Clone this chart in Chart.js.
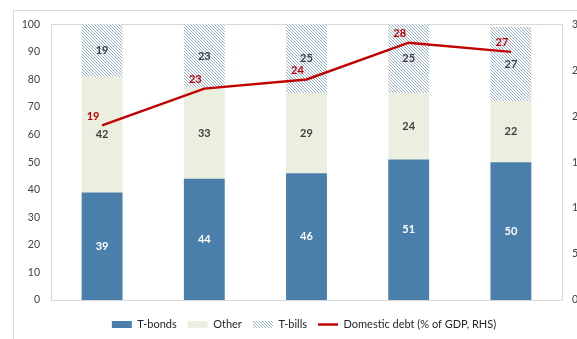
<!DOCTYPE html>
<html lang="en">
<head>
  <meta charset="UTF-8">
  <title>Domestic debt composition</title>
  <script src="https://cdn.jsdelivr.net/npm/chart.js"></script>
  <style>
    html, body { margin: 0; padding: 0; background: #fff; overflow: hidden; }
    .frame {
      position: absolute; left: 13px; top: 10px;
      width: 580px; height: 335px; overflow: hidden;
      border-left: 1px solid #d9d9d9; border-top: 1px solid #d9d9d9;
    }
    .frame canvas { position: absolute; left: 0; top: -4px; }
  </style>
</head>
<body>
  <div class="frame"><canvas id="debtChart" width="580" height="339"></canvas></div>

<script>
// years on the x axis
const years = ['2019', '2020', '2021', '2022', '2023'];
// composition of domestic debt, % of total
const tBonds = [39, 44, 46, 51, 50];
const other = [42, 33, 29, 24, 22];
const tBills = [19, 23, 25, 25, 27];
// domestic debt, % of GDP (right axis)
const domDebt = [19, 23, 24, 28, 27];

const FONT = 'Lato, "Open Sans", sans-serif';

// diagonal hatch used for T-bills, drawn pixel by pixel
function hatch() {
  const c = document.createElement('canvas');
  c.width = 3; c.height = 3;
  const g = c.getContext('2d');
  g.fillStyle = '#ffffff';
  g.fillRect(0, 0, 3, 3);
  g.fillStyle = '#94aed4';
  for (let i = 0; i < 3; i++) g.fillRect(i, i, 1, 1);
  return g.createPattern(c, 'repeat');
}

// thin frame around the plot area
const plotFrame = {
  id: 'plotFrame',
  beforeDatasetsDraw(chart) {
    const a = chart.chartArea, ctx = chart.ctx;
    ctx.save();
    ctx.strokeStyle = '#d9d9d9';
    ctx.lineWidth = 1;
    ctx.strokeRect(Math.round(a.left) + 0.5, Math.round(a.top) + 0.5,
      Math.round(a.right - a.left), Math.round(a.bottom - a.top));
    ctx.restore();
  }
};

// value labels on bar segments and line points
const valueLabels = {
  id: 'valueLabels',
  afterDatasetsDraw(chart) {
    const ctx = chart.ctx;
    ctx.save();
    ctx.textAlign = 'center';
    ctx.textBaseline = 'middle';
    ctx.font = 'bold 11px ' + FONT;
    chart.data.datasets.forEach((ds, i) => {
      const meta = chart.getDatasetMeta(i);
      meta.data.forEach((el, j) => {
        const v = ds.data[j];
        if (ds.type === 'line') {
          ctx.fillStyle = '#c00000';
          ctx.fillText(v, el.x - 9, el.y - 9);
        } else {
          ctx.fillStyle = i === 0 ? '#ffffff' : '#404040';
          ctx.fillText(v, el.x, (el.y + el.base) / 2);
        }
      });
    });
    ctx.restore();
  }
};

const tickFont = { family: FONT, size: 10.5 };

new Chart(document.getElementById('debtChart'), {
  data: {
    labels: years,
    datasets: [
      { type: 'bar', label: 'T-bonds', data: tBonds, backgroundColor: '#4a7eab',
        yAxisID: 'y', order: 1, barPercentage: 0.8, categoryPercentage: 0.5 },
      { type: 'bar', label: 'Other', data: other, backgroundColor: '#ebefdf',
        yAxisID: 'y', order: 1, barPercentage: 0.8, categoryPercentage: 0.5 },
      { type: 'bar', label: 'T-bills', data: tBills, backgroundColor: hatch(),
        yAxisID: 'y', order: 1, barPercentage: 0.8, categoryPercentage: 0.5 },
      { type: 'line', label: 'Domestic debt (% of GDP, RHS)', data: domDebt,
        borderColor: '#c00000', backgroundColor: '#c00000', borderWidth: 2.5,
        pointRadius: 0, tension: 0, yAxisID: 'y1', order: 0 }
    ]
  },
  options: {
    responsive: false,
    animation: false,
    layout: { padding: { left: 0, right: 0, top: 5, bottom: 6 } },
    scales: {
      x: {
        stacked: true,
        grid: { display: false, drawTicks: false },
        border: { display: true, color: '#d9d9d9' },
        ticks: { color: '#404040', font: tickFont, padding: 8 },
        afterFit(s) { s.height = 8; }
      },
      y: {
        stacked: true,
        position: 'left',
        min: 0, max: 100,
        grid: { display: false, drawTicks: false },
        border: { display: false },
        ticks: { stepSize: 10, color: '#404040', font: tickFont, padding: 11 },
        afterFit(s) { s.width = 37; }
      },
      y1: {
        position: 'right',
        min: 0, max: 30,
        grid: { display: false, drawTicks: false },
        border: { display: false },
        ticks: { stepSize: 5, color: '#404040', font: tickFont, padding: 10 },
        afterFit(s) { s.width = 32; }
      }
    },
    plugins: {
      tooltip: { enabled: false },
      legend: {
        position: 'bottom',
        labels: {
          usePointStyle: true,
          pointStyleWidth: 20,
          boxHeight: 7,
          padding: 11,
          color: '#262626',
          font: { family: FONT, size: 11 },
          generateLabels(chart) {
            const items = Chart.defaults.plugins.legend.labels.generateLabels(chart);
            items.sort((a, b) => a.datasetIndex - b.datasetIndex);
            items.forEach(it => {
              if (chart.data.datasets[it.datasetIndex].type === 'line') {
                it.pointStyle = 'line';
                it.strokeStyle = '#c00000';
                it.lineWidth = 2.5;
              } else {
                it.pointStyle = 'rect';
                it.lineWidth = 0;
              }
            });
            return items;
          }
        }
      }
    }
  },
  plugins: [plotFrame, valueLabels]
});
</script>
</body>
</html>
